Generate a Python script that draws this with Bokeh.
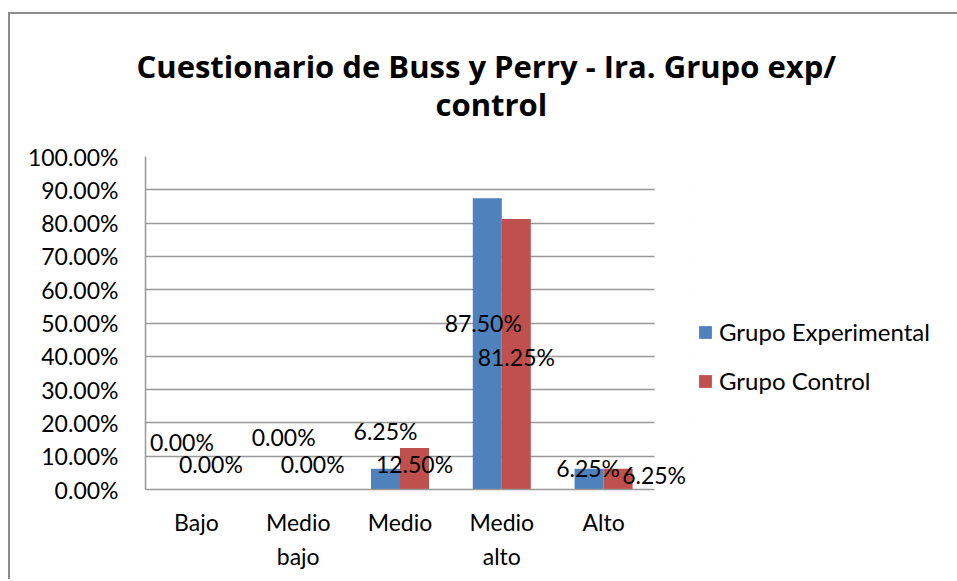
from bokeh.plotting import figure
from bokeh.models import (ColumnDataSource, LabelSet, Legend, Title, LinearAxis,
                          LegendItem, NumeralTickFormatter, FixedTicker, Range1d,
                          BoxAnnotation)
from bokeh.core.properties import value
from bokeh.embed import file_html
from bokeh.resources import INLINE

# ---- data ----
categories = ["Bajo", "Medio bajo", "Medio", "Medio alto", "Alto"]
exp_values = [0.0, 0.0, 0.0625, 0.875, 0.0625]
ctrl_values = [0.0, 0.0, 0.125, 0.8125, 0.0625]
series_names = ["Grupo Experimental", "Grupo Control"]
y_ticks = [0.0, 0.1, 0.2, 0.3, 0.4, 0.5, 0.6, 0.7, 0.8, 0.9, 1.0]
title_lines = ["Cuestionario de Buss y Perry - Ira. Grupo exp/", "control"]

# data-label placement as drawn in the original chart (value units / px shift)
exp_label_y = [0.144, 0.159, 0.177, 0.501, 0.066]
ctrl_label_y = [0.078, 0.078, 0.078, 0.399, 0.045]
exp_label_dx = [0, 0, 0, -4, -1]
ctrl_label_dx = [0, 0, 0, 0, 36]

BLUE = "#4F81BD"
RED = "#C0504D"
GRID = "#999999"
FONT = "Lato"
TFONT = "Open Sans"
FS = "23px"
BAR_W = 0.285
N = len(categories)
EXTRA = 0.393          # room right of the last group, kept only for its overflowing label
CAT_PX = 101.8

centers = [i + 0.5 for i in range(N)]
src = ColumnDataSource(dict(
    xe=[c - BAR_W / 2 for c in centers],
    xc=[c + BAR_W / 2 for c in centers],
    exp=exp_values,
    ctrl=ctrl_values,
    exp_txt=["%.2f%%" % (v * 100) for v in exp_values],
    ctrl_txt=["%.2f%%" % (v * 100) for v in ctrl_values],
    exp_ly=exp_label_y,
    ctrl_ly=ctrl_label_y,
    exp_dx=exp_label_dx,
    ctrl_dx=ctrl_label_dx,
))

W, H = 945, 565
frame_w = int(round(CAT_PX * (N + EXTRA)))
p = figure(x_range=Range1d(0, N + EXTRA), y_range=Range1d(0, 1), title=None,
           width=W, height=H, frame_width=frame_w, frame_height=333,
           min_border_left=135, min_border_right=W - 135 - frame_w,
           min_border_top=142, min_border_bottom=H - 142 - 333,
           output_backend="svg", toolbar_location=None)
p.styles = {"border-left": "2px solid #8c8c8c", "border-top": "2px solid #8c8c8c",
            "margin-top": "12px", "margin-left": "8px"}

p.outline_line_color = None
p.background_fill_color = "white"
p.border_fill_color = "white"

r_exp = p.vbar(x="xe", top="exp", width=BAR_W, source=src,
               fill_color=BLUE, line_color=None)
r_ctrl = p.vbar(x="xc", top="ctrl", width=BAR_W, source=src,
                fill_color=RED, line_color=None)

# y axis
p.yaxis.ticker = FixedTicker(ticks=y_ticks)
p.yaxis.formatter = NumeralTickFormatter(format="0.00%")
p.yaxis.major_tick_line_color = None
p.yaxis.minor_tick_line_color = None
p.yaxis.axis_line_color = GRID
p.yaxis.axis_line_width = 1.5
p.yaxis.major_label_standoff = 21
p.yaxis.major_label_text_font = FONT
p.yaxis.major_label_text_font_size = FS
p.yaxis.major_label_text_color = "black"

# x axis: first line of each category name
xa = p.xaxis[0]
xa.ticker = FixedTicker(ticks=centers)
xa.bounds = (0, N)
xa.major_tick_line_color = None
xa.minor_tick_line_color = None
xa.major_tick_out = 0
xa.major_tick_in = 0
xa.axis_line_color = GRID
xa.axis_line_width = 1.5
xa.major_label_standoff = 18
xa.major_label_text_font = FONT
xa.major_label_text_font_size = FS
xa.major_label_text_color = "black"
xa.major_label_overrides = {c: name.split(" ")[0] for c, name in zip(centers, categories)}

# second line of the category names
xa2 = LinearAxis(ticker=FixedTicker(ticks=centers), axis_line_color=None,
                 major_tick_line_color=None, minor_tick_line_color=None,
                 major_tick_out=0, major_tick_in=0, major_label_standoff=3,
                 major_label_text_font=FONT, major_label_text_font_size=FS,
                 major_label_text_color="black",
                 major_label_overrides={c: (name.split(" ", 1)[1] if " " in name else "")
                                        for c, name in zip(centers, categories)})
p.add_layout(xa2, "below")

p.xgrid.grid_line_color = None
p.ygrid.grid_line_color = GRID
p.ygrid.grid_line_width = 1.5

# blank the gridlines beyond the last category (room kept only for a label)
p.add_layout(BoxAnnotation(left=N, right=N + EXTRA + 0.02, fill_color="white",
                           fill_alpha=1.0, line_color=None))

# data labels
for xcol, ycol, txt, dx in (("xe", "exp_ly", "exp_txt", "exp_dx"),
                            ("xc", "ctrl_ly", "ctrl_txt", "ctrl_dx")):
    p.add_layout(LabelSet(x=xcol, y=ycol, text=txt, x_offset=dx, source=src,
                          text_align="center", text_baseline="middle",
                          text_font=value(FONT), text_font_size=value(FS),
                          text_color="black"))

# title: spacer closest to the frame, then the two lines
p.add_layout(Title(text=" ", text_font_size="10px", standoff=22), "above")
for line, off in ((title_lines[1], 290), (title_lines[0], -9)):
    p.add_layout(Title(text=line, align="left", offset=off, standoff=-6,
                       text_font=TFONT, text_font_style="bold",
                       text_font_size="31px", text_color="black"), "above")

# legend
legend = Legend(items=[LegendItem(label=series_names[0], renderers=[r_exp]),
                       LegendItem(label=series_names[1], renderers=[r_ctrl])],
                location=(3, 94), orientation="vertical",
                glyph_width=16, glyph_height=16, label_standoff=6,
                label_text_font=FONT, label_text_font_size="24px",
                label_text_color="black", spacing=20, padding=0, margin=0,
                border_line_color=None, background_fill_alpha=0)
p.add_layout(legend, "right")

open("out.html", "w").write(file_html(p, INLINE))
